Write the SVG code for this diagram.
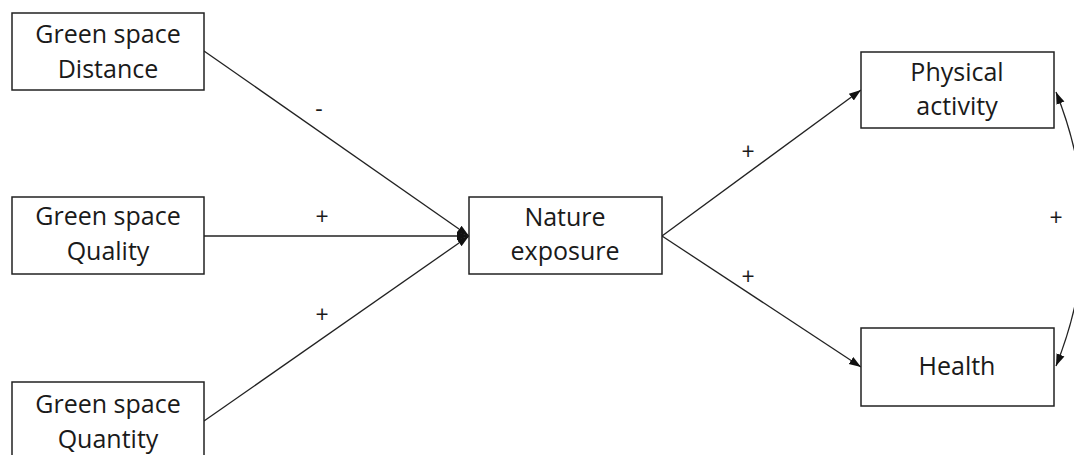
<svg xmlns="http://www.w3.org/2000/svg" width="1074" height="455" viewBox="0 0 1074 455">
<style>
.box{fill:#fff;stroke:#222;stroke-width:1.5}
.t{font-family:"Open Sans","Liberation Sans",sans-serif;font-size:25px;fill:#1a1a1a;text-anchor:middle}
.l{font-family:"Open Sans","Liberation Sans",sans-serif;font-size:23px;fill:#1a1a1a;text-anchor:middle}
.c{fill:none;stroke:#222;stroke-width:1.3}
</style>
<defs>
<marker id="ahs" viewBox="0 0 10 10" refX="10" refY="5" markerWidth="12" markerHeight="12" orient="auto-start-reverse" markerUnits="userSpaceOnUse">
<path d="M0,1.5 L10,5 L0,8.5 Z" fill="#111"/>
</marker>
</defs>
<rect width="1074" height="455" fill="#fff"/>
<g id="connectors">
<line class="c" x1="204" y1="51" x2="469" y2="236" marker-end="url(#ahs)"/>
<line class="c" x1="204" y1="236" x2="469" y2="236" marker-end="url(#ahs)"/>
<line class="c" x1="204" y1="421" x2="469" y2="236" marker-end="url(#ahs)"/>
<line class="c" x1="662" y1="236" x2="861" y2="90" marker-end="url(#ahs)"/>
<line class="c" x1="662" y1="236" x2="861" y2="367" marker-end="url(#ahs)"/>
<path class="c" d="M1056,92 Q1111,229 1056,366" marker-start="url(#ahs)" marker-end="url(#ahs)"/>
<text class="l" x="319" y="117">-</text>
<text class="l" x="322" y="225">+</text>
<text class="l" x="322" y="323">+</text>
<text class="l" x="748" y="160">+</text>
<text class="l" x="748" y="285">+</text>
<text class="l" x="1056" y="226">+</text>
</g>
<g id="distance">
<rect class="box" x="12" y="13" width="192" height="77"/>
<text class="t" x="108" y="43">Green space</text>
<text class="t" x="108" y="78">Distance</text>
</g>
<g id="quality">
<rect class="box" x="12" y="197" width="192" height="77"/>
<text class="t" x="108" y="225">Green space</text>
<text class="t" x="108" y="260">Quality</text>
</g>
<g id="quantity">
<rect class="box" x="12" y="382" width="192" height="80"/>
<text class="t" x="108" y="413">Green space</text>
<text class="t" x="108" y="448">Quantity</text>
</g>
<g id="nature">
<rect class="box" x="469" y="197" width="193" height="77"/>
<text class="t" x="565" y="226">Nature</text>
<text class="t" x="565" y="260">exposure</text>
</g>
<g id="physical">
<rect class="box" x="861" y="52" width="193" height="76"/>
<text class="t" x="957" y="81">Physical</text>
<text class="t" x="957" y="115">activity</text>
</g>
<g id="health">
<rect class="box" x="861" y="328" width="193" height="78"/>
<text class="t" x="957" y="375">Health</text>
</g>
</svg>
